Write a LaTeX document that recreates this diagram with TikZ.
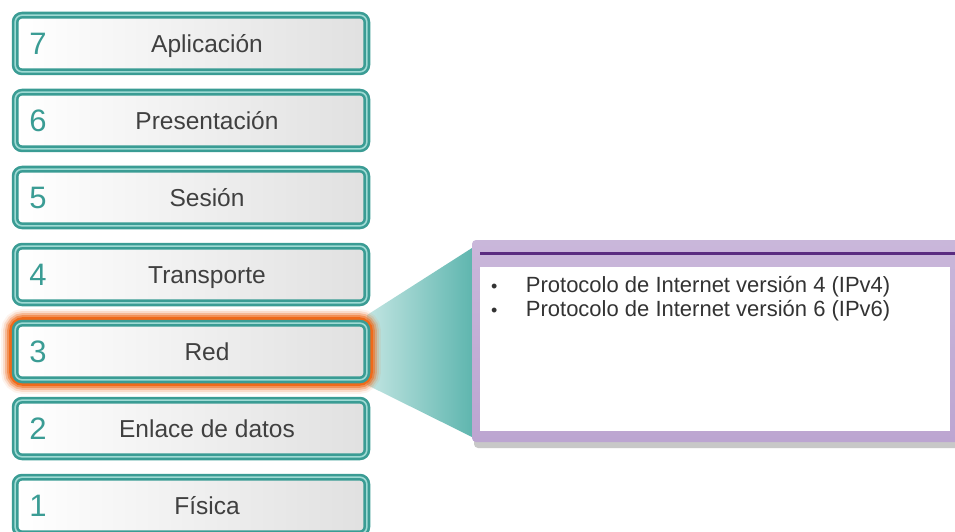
\documentclass[tikz,border=0pt]{standalone}
\usepackage{fontspec}
\setmainfont{Liberation Sans}
\usetikzlibrary{positioning,calc,backgrounds,shadows}
\definecolor{cteal}{HTML}{3A9C94}
\definecolor{cteallt}{HTML}{9FDAD4}
\definecolor{cink}{HTML}{404040}
\definecolor{corange}{HTML}{EF6A1A}
\definecolor{clav}{HTML}{BCA5D1}
\definecolor{cplum}{HTML}{5A2C80}
\definecolor{cwedgelt}{HTML}{C2E5E2}
\definecolor{cwedge}{HTML}{5FB6AF}

\begin{document}
\begin{tikzpicture}[x=1pt, y=1pt,
    layer/.style={draw=cteal, double=cteallt, double distance=1.6pt, line width=2.6pt,
      rounded corners=7pt, minimum width=351.7pt, minimum height=56.7pt,
      inner sep=0pt, outer sep=0pt, left color=white, right color=black!12,
      path picture={\draw[black!28, line width=2.2pt, rounded corners=5pt]
        ($(path picture bounding box.north west)+(1,-1)$) rectangle
        ($(path picture bounding box.south east)+(-1.5,1.5)$);}},
    num/.style={font=\fontsize{31}{32}\selectfont, text=cteal, anchor=base west, inner sep=0pt},
    lab/.style={font=\fontsize{24.5}{27}\selectfont, text=cink, anchor=base, inner sep=0pt},
    item/.style={font=\fontsize{22}{24}\selectfont, text=black!80, inner sep=0pt},
    dot/.style={font=\fontsize{18}{20}\selectfont, text=black!80, inner sep=0pt, anchor=base west},
    glow/.style={corange, rounded corners=8pt}]
  \useasboundingbox (0,0) rectangle (955,531);
  \clip (0,0) rectangle (955,531);

  % the seven layers
  \node[layer] (L7) at (191,487.5) {};
  \node[layer, below=20.3pt of L7] (L6) {};
  \node[layer, below=20.3pt of L6] (L5) {};
  \node[layer, below=20.3pt of L5] (L4) {};
  \node[layer, below=20.3pt of L4] (L3) {};
  \node[layer, below=20.3pt of L3] (L2) {};
  \node[layer, below=20.3pt of L2] (L1) {};

  \node[num] (n7) at ($(L7.west)+(14,-11)$) {7};
  \node[num] (n6) at ($(L6.west)+(14,-11)$) {6};
  \node[num] (n5) at ($(L5.west)+(14,-11)$) {5};
  \node[num] (n4) at ($(L4.west)+(14,-11)$) {4};
  \node[num] (n3) at ($(L3.west)+(14,-11)$) {3};
  \node[num] (n2) at ($(L2.west)+(14,-11)$) {2};
  \node[num] (n1) at ($(L1.west)+(14,-11)$) {1};

  \node[lab] (t7) at ($(L7.center)+(16,-8.6)$) {Aplicación};
  \node[lab] (t6) at ($(L6.center)+(16,-8.6)$) {Presentación};
  \node[lab] (t5) at ($(L5.center)+(16,-8.6)$) {Sesión};
  \node[lab] (t4) at ($(L4.center)+(16,-8.6)$) {Transporte};
  \node[lab] (t3) at ($(L3.center)+(16,-8.6)$) {Red};
  \node[lab] (t2) at ($(L2.center)+(16,-8.6)$) {Enlace de datos};
  \node[lab] (t1) at ($(L1.center)+(16,-8.6)$) {Física};

  % callout for layer 3
  \node[top color=clav!80, bottom color=clav, rounded corners=4pt,
        minimum width=488pt, minimum height=202pt, inner sep=0pt, outer sep=0pt,
        drop shadow={shadow xshift=2pt, shadow yshift=-6pt, opacity=.3, fill=black!70}]
        (call) at (716,190) {};
  \draw[cplum, line width=3pt] ($(call.north west)+(8,-13)$) -- ($(call.north east)+(0,-13)$);
  \node[fill=white, minimum width=470pt, minimum height=164pt, inner sep=0pt,
        anchor=north west] (body) at ($(call.north west)+(8,-27)$) {};

  \node[dot] (b1) at ($(body.north west)+(11,-25)$) {•};
  \node[item, base right=28pt of b1] (p1) {Protocolo de Internet versión 4 (IPv4)};
  \node[dot] (b2) at ($(body.north west)+(11,-49)$) {•};
  \node[item, base right=28pt of b2] (p2) {Protocolo de Internet versión 6 (IPv6)};

  \begin{scope}[on background layer]
    \fill[white] (0,0) rectangle (955,531);
    \path[left color=cwedgelt, right color=cwedge]
      ($(L3.north east)+(0,8)$) -- ($(call.north west)+(0,-8)$)
      -- ($(call.south west)+(0,5)$) -- ($(L3.south east)+(0,-5)$) -- cycle;
    % glow round the chosen layer
    \draw[glow, line width=28pt, opacity=.08] (L3.south west) rectangle (L3.north east);
    \draw[glow, line width=24pt, opacity=.16] (L3.south west) rectangle (L3.north east);
    \draw[glow, line width=20pt, opacity=.3] (L3.south west) rectangle (L3.north east);
    \draw[glow, line width=16pt, opacity=.5] (L3.south west) rectangle (L3.north east);
    \draw[glow, line width=12pt] (L3.south west) rectangle (L3.north east);
  \end{scope}
\end{tikzpicture}
\end{document}
